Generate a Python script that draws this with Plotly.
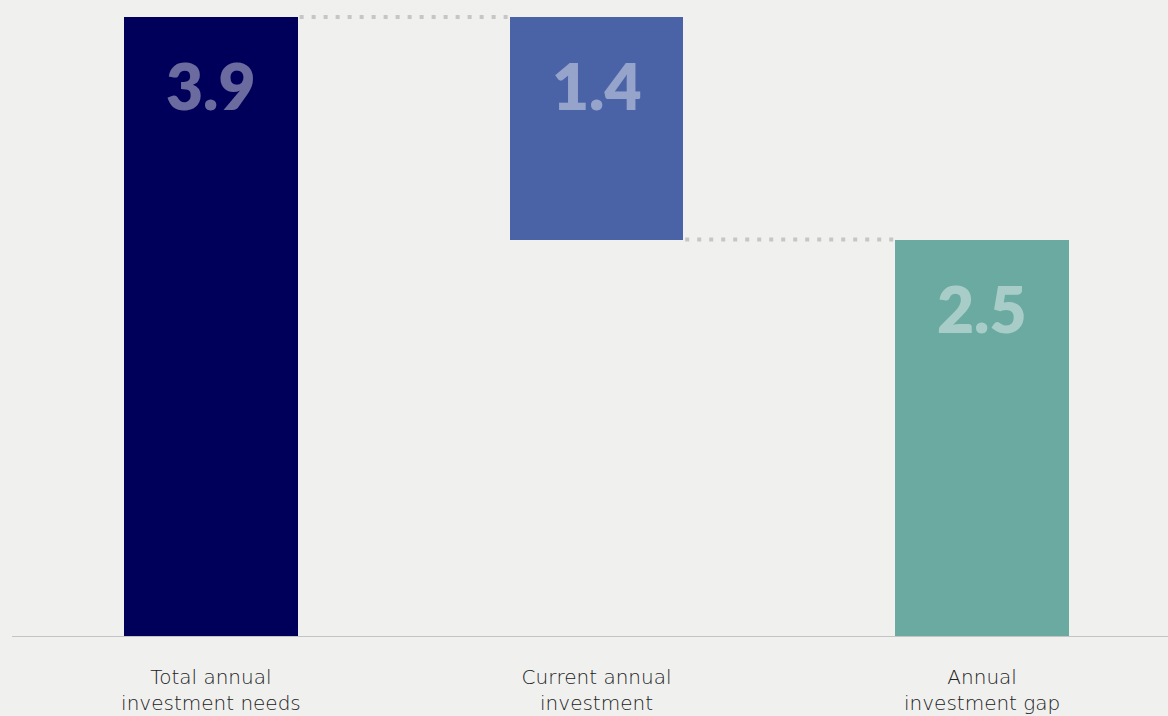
import plotly.graph_objects as go

categories = ["Total annual<br>investment needs", "Current annual<br>investment", "Annual<br>investment gap"]
values = [3.9, 1.4, 2.5]
bases = [0, 2.5, 0]
labels = ["3.9", "1.4", "2.5"]
colors = ["#00005a", "#4a62a6", "#6aaaa0"]

BAR_W = 0.45
xs = list(range(len(categories)))

fig = go.Figure()
fig.add_trace(go.Bar(
    x=xs, y=values, base=bases, width=BAR_W,
    marker=dict(color=colors, line=dict(width=0)),
    hoverinfo="skip",
))

# value labels near the top of each bar
for i, (v, b, t) in enumerate(zip(values, bases, labels)):
    fig.add_annotation(
        x=i, y=v + b, xref="x", yref="y", text=t, showarrow=False,
        yanchor="top", yshift=-28,
        font=dict(family="Lato", size=64, weight=800, color="rgba(255,255,255,0.42)"),
    )

# dotted connectors between bar tops/bottoms
tops = [v + b for v, b in zip(values, bases)]
conn_levels = [tops[0], bases[1]]
for i, lvl in enumerate(conn_levels):
    fig.add_shape(
        type="line", xref="x", yref="y",
        x0=i + BAR_W / 2 + 0.005, x1=i + 1 - BAR_W / 2 - 0.005, y0=lvl, y1=lvl,
        line=dict(color="#c6c6c6", width=4, dash="4px,8px"),
    )

# baseline
fig.add_shape(type="line", xref="paper", yref="y", x0=12 / 1168, x1=1, y0=0, y1=0,
              line=dict(color="#c4c4c4", width=2))

fig.update_layout(
    width=1168, height=716,
    margin=dict(l=0, r=0, t=0, b=79, autoexpand=False),
    paper_bgcolor="#f0f0ef", plot_bgcolor="#f0f0ef",
    showlegend=False,
    xaxis=dict(
        range=[-0.547, 2.482], tickmode="array", tickvals=xs, ticktext=categories,
        showgrid=False, zeroline=False, showline=False, ticks="",
        automargin=False,
        ticklabelstandoff=26,
        tickfont=dict(family="DejaVu Sans", size=20, weight=200, color="#222222"),
    ),
    yaxis=dict(range=[0, 4.007], visible=False, showgrid=False, zeroline=False,
               automargin=False),
    bargap=0,
)

fig.write_html("out.html")
